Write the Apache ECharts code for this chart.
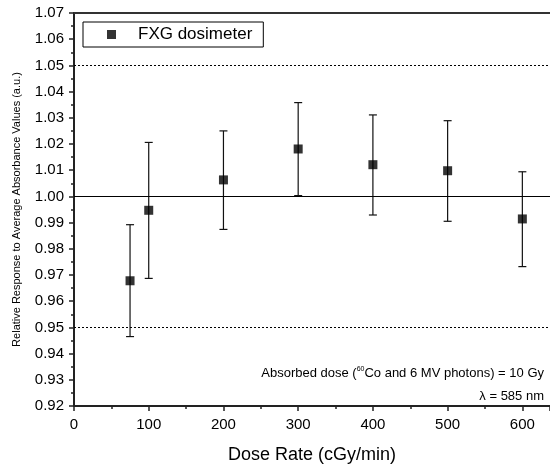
<!DOCTYPE html>
<html><head><meta charset="utf-8">
<script src="https://cdn.jsdelivr.net/npm/echarts@6/dist/echarts.min.js"></script>
<style>html,body{margin:0;padding:0;background:#fff}#c{width:550px;height:466px}</style>
</head><body><div id="c"></div>
<script>
var doseRates = [75, 100, 200, 300, 400, 500, 600];
var response  = [0.9678, 0.9947, 1.0063, 1.0181, 1.0121, 1.0098, 0.9914];
var errHigh   = [0.9892, 1.0206, 1.0250, 1.0358, 1.0311, 1.0289, 1.0094];
var errLow    = [0.9465, 0.9687, 0.9874, 1.0003, 0.9929, 0.9905, 0.9732];
var refLines  = [1.05, 1.00, 0.95];
var seriesName = 'FXG dosimeter';

var chart = echarts.init(document.getElementById('c'), null, {renderer: 'canvas'});
var F = 'Liberation Sans, Arial, sans-serif';
var errData = doseRates.map(function (x, i) { return [x, errLow[i], errHigh[i]]; });
var ptData = doseRates.map(function (x, i) { return [x, response[i]]; });

chart.setOption({
  animation: false,
  grid: {left: 74, right: 0, top: 13, bottom: 60, containLabel: false, outerBoundsMode: 'none'},
  legend: {
    left: 83, top: 22, orient: 'horizontal',
    data: [{name: seriesName, icon: 'rect'}],
    itemWidth: 9, itemHeight: 9,
    borderColor: '#000', borderWidth: 1, borderRadius: 0,
    padding: [4, 11, 4, 24],
    textStyle: {fontFamily: F, fontSize: 17, color: '#000', padding: [0, 0, 0, 17]}
  },
  xAxis: [{
    type: 'value', min: 0, max: 637, interval: 100,
    position: 'bottom',
    name: 'Dose Rate (cGy/min)', nameLocation: 'middle', nameGap: 40,
    nameTextStyle: {fontFamily: F, fontSize: 18, color: '#000'},
    axisLine: {show: true, onZero: false, lineStyle: {color: '#222', width: 2}},
    axisTick: {show: true, inside: false, length: 5, lineStyle: {color: '#222', width: 1.5}},
    minorTick: {show: true, splitNumber: 2, length: 3, lineStyle: {color: '#222', width: 1.5}},
    axisLabel: {fontFamily: F, fontSize: 15, color: '#000', margin: 11,
      formatter: function (v) { return v > 600 ? '' : String(v); }},
    splitLine: {show: false}
  }, {
    type: 'value', min: 0, max: 637, position: 'top',
    axisLine: {show: true, onZero: false, lineStyle: {color: '#333', width: 2}},
    axisTick: {show: false}, axisLabel: {show: false}, splitLine: {show: false}
  }],
  yAxis: {
    type: 'value', min: 0.92, max: 1.07, interval: 0.01,
    name: 'Relative Response to Average Absorbance Values (a.u.)',
    nameLocation: 'middle', nameGap: 52,
    nameTextStyle: {fontFamily: F, fontSize: 11, color: '#000'},
    axisLine: {show: true, onZero: false, lineStyle: {color: '#222', width: 2}},
    axisTick: {show: true, inside: false, length: 5, lineStyle: {color: '#222', width: 1.5}},
    minorTick: {show: true, splitNumber: 2, length: 3, lineStyle: {color: '#222', width: 1.5}},
    axisLabel: {fontFamily: F, fontSize: 15, color: '#000', margin: 10,
      formatter: function (v) { return v.toFixed(2); }},
    splitLine: {show: false}
  },
  series: [{
    type: 'custom', name: 'err', silent: true, z: 3,
    renderItem: function (params, api) {
      var x = api.value(0);
      var lo = api.coord([x, api.value(1)]);
      var hi = api.coord([x, api.value(2)]);
      var w = 4;
      var st = {stroke: '#111', lineWidth: 1.2};
      return {type: 'group', children: [
        {type: 'line', shape: {x1: lo[0], y1: lo[1], x2: hi[0], y2: hi[1]}, style: st},
        {type: 'line', shape: {x1: lo[0] - w, y1: lo[1], x2: lo[0] + w, y2: lo[1]}, style: st},
        {type: 'line', shape: {x1: hi[0] - w, y1: hi[1], x2: hi[0] + w, y2: hi[1]}, style: st}
      ]};
    },
    encode: {x: 0, y: [1, 2]},
    data: errData
  }, {
    type: 'scatter', name: seriesName, symbol: 'rect', symbolSize: 9, z: 5,
    itemStyle: {color: '#000'},
    data: ptData,
    markLine: {
      silent: true, symbol: 'none', label: {show: false},
      data: refLines.map(function (v) {
        return {yAxis: v, lineStyle: {color: '#000', width: 1, type: v === 1 ? 'solid' : [2, 2]}};
      })
    }
  }],
  graphic: [{
    type: 'text', right: 6, top: 366,
    style: {
      text: 'Absorbed dose ({sup|60}Co and 6 MV photons) = 10 Gy',
      fontFamily: F, fontSize: 13, fill: '#000',
      rich: {sup: {fontFamily: F, fontSize: 7, verticalAlign: 'top', lineHeight: 15}}
    }
  }, {
    type: 'text', right: 6, top: 390,
    style: {text: '\u03bb = 585 nm', fontFamily: F, fontSize: 13, fill: '#000'}
  }]
});
</script></body></html>
